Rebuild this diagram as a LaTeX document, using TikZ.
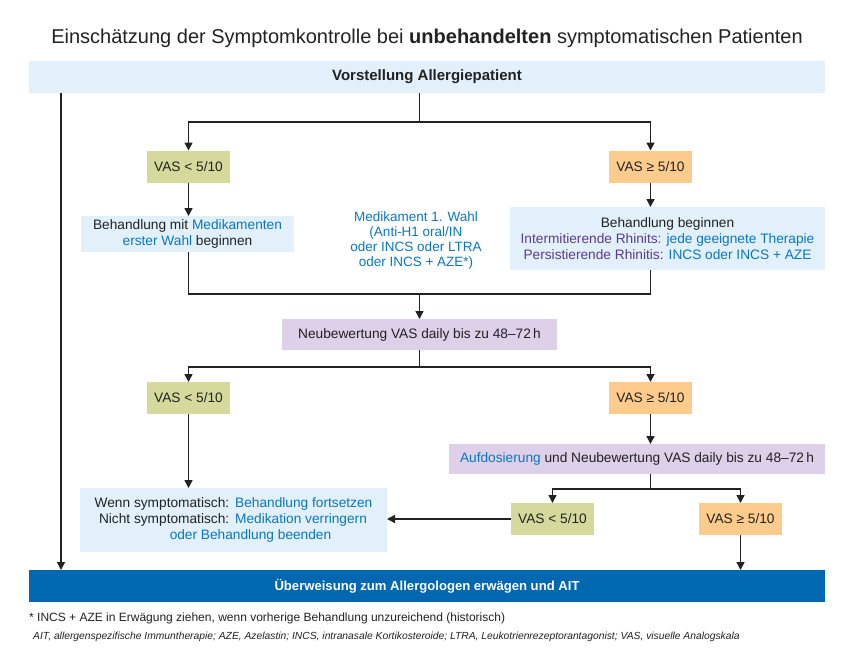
\documentclass[tikz,border=0pt]{standalone}
\usepackage{fontspec}
\setmainfont{Liberation Sans}
\usetikzlibrary{arrows.meta,calc}
\definecolor{lblue}{HTML}{E1F0FA}
\definecolor{vgreen}{HTML}{D5DA9C}
\definecolor{vorange}{HTML}{FDCB8C}
\definecolor{vpurple}{HTML}{DDD0E8}
\definecolor{barblue}{HTML}{0067B1}
\definecolor{tblue}{HTML}{0A78BE}
\definecolor{tpurple}{HTML}{5E3A8E}
\definecolor{tdark}{HTML}{222222}
\tikzset{
  box/.style={inner sep=0pt, outer sep=0pt, text=tdark, align=center,
    font=\fontsize{13.7}{16.2}\selectfont},
  vgbox/.style={box, fill=vgreen, minimum width=83pt, minimum height=32pt},
  vobox/.style={box, fill=vorange, minimum width=83pt, minimum height=32pt},
  conn/.style={draw=tdark, line width=1.5pt},
  arr/.style={conn, -{Triangle[length=8pt,width=8pt]}},
}
\begin{document}
\begin{tikzpicture}[x=1pt,y=-1pt]
\useasboundingbox (0,0) rectangle (850,670);
% title
\node[text=tdark, font=\fontsize{20}{24}\selectfont] (title) at (427,38)
  {Einschätzung der Symptomkontrolle bei \textbf{unbehandelten} symptomatischen Patienten};
% top box
\node[box, fill=lblue, minimum width=796pt, minimum height=32pt,
  font=\fontsize{15}{17}\selectfont\bfseries] (top) at (427,77) {Vorstellung Allergiepatient};
% row 1
\node[vgbox] (vl1) at (188.5,166.5) {VAS < 5/10};
\node[vobox] (vr1) at (650.5,166.5) {VAS ≥ 5/10};
\node[box, fill=lblue, minimum width=213pt, minimum height=36pt] (bl) at (187.5,234)
  {Behandlung mit \textcolor{tblue}{Medikamenten}\\\textcolor{tblue}{erster Wahl} beginnen};
\node[box, fill=lblue, minimum width=315pt, minimum height=63pt] (br) at (667.5,238.5)
  {Behandlung beginnen\\
   \textcolor{tpurple}{Intermitierende Rhinits:} \textcolor{tblue}{jede geeignete Therapie}\\
   \textcolor{tpurple}{Persistierende Rhinitis:} \textcolor{tblue}{INCS oder INCS + AZE}};
\node[box, text=tblue, font=\fontsize{13.5}{15}\selectfont] (mid) at (416,240)
  {Medikament 1. Wahl\\(Anti-H1 oral/IN\\oder INCS oder LTRA\\oder INCS + AZE*)};
% neubewertung
\node[box, fill=vpurple, minimum width=275pt, minimum height=31pt] (neu) at (419.5,334.5)
  {Neubewertung VAS daily bis zu 48–72\,h};
% row 2
\node[vgbox] (vl2) at (188.5,398) {VAS < 5/10};
\node[vobox] (vr2) at (650.5,398) {VAS ≥ 5/10};
\node[box, fill=vpurple, minimum width=376pt, minimum height=30pt] (auf) at (637,459)
  {\textcolor{tblue}{Aufdosierung} und Neubewertung VAS daily bis zu 48–72\,h};
% wenn box
\node[box, fill=lblue, minimum width=307pt, minimum height=64pt] (wenn) at (233.5,520)
  {\renewcommand{\arraystretch}{0.98}%
   \begin{tabular}{@{}r@{\hspace{6pt}}l@{}}
   Wenn symptomatisch: & \textcolor{tblue}{Behandlung fortsetzen}\\
   Nicht symptomatisch: & \textcolor{tblue}{Medikation verringern}\\
   \multicolumn{2}{c}{\hspace{34pt}\textcolor{tblue}{oder Behandlung beenden}}
   \end{tabular}};
% row 3
\node[vgbox] (vl3) at (552.5,519) {VAS < 5/10};
\node[vobox] (vr3) at (740.5,519) {VAS ≥ 5/10};
% bottom bar
\node[box, fill=barblue, text=white, minimum width=796pt, minimum height=32pt,
  font=\fontsize{13.1}{16}\selectfont\bfseries] (bottom) at (427,586)
  {Überweisung zum Allergologen erwägen und AIT};
% footnotes
\node[anchor=west, inner sep=0pt, text=tdark, font=\fontsize{12}{14}\selectfont] (fn1) at (29,618)
  {* INCS + AZE in Erwägung ziehen, wenn vorherige Behandlung unzureichend (historisch)};
\node[anchor=west, inner sep=0pt, text=tdark, font=\fontsize{10.3}{12}\selectfont\itshape] (fn2) at (33,637)
  {AIT, allergenspezifische Immuntherapie; AZE, Azelastin; INCS, intranasale Kortikosteroide; LTRA, Leukotrienrezeptorantagonist; VAS, visuelle Analogskala};
% junctions
\coordinate (j1) at (419.5,122);
\coordinate (j2) at (419.5,294);
\coordinate (j3) at (419.5,367);
\coordinate (j4) at (650.5,489);
\coordinate (lt) at (61,93);
\coordinate (lb) at (61,570);
% connectors
\draw[conn] (top.south -| j1) -- (j1);
\draw[arr] (j1) -| (vl1.north);
\draw[arr] (j1) -| (vr1.north);
\draw[arr] (vl1.south) -- (bl.north -| vl1);
\draw[arr] (vr1.south) -- (br.north -| vr1);
\draw[conn] (bl.south -| vl1) |- (j2);
\draw[conn] (br.south -| vr1) |- (j2);
\draw[arr] (j2) -- (neu.north);
\draw[conn] (neu.south) -- (j3);
\draw[arr] (j3) -| (vl2.north);
\draw[arr] (j3) -| (vr2.north);
\draw[arr] (vl2.south) -- (wenn.north -| vl2);
\draw[arr] (vr2.south) -- (auf.north -| vr2);
\draw[conn] (auf.south -| vr2) -- (j4);
\draw[arr] (j4) -| (vl3.north);
\draw[arr] (j4) -| (vr3.north);
\draw[arr] (vl3.west) -- (wenn.east |- vl3.west);
\draw[arr] (vr3.south) -- (bottom.north -| vr3);
\draw[arr] (lt) -- (lb);
\end{tikzpicture}
\end{document}
